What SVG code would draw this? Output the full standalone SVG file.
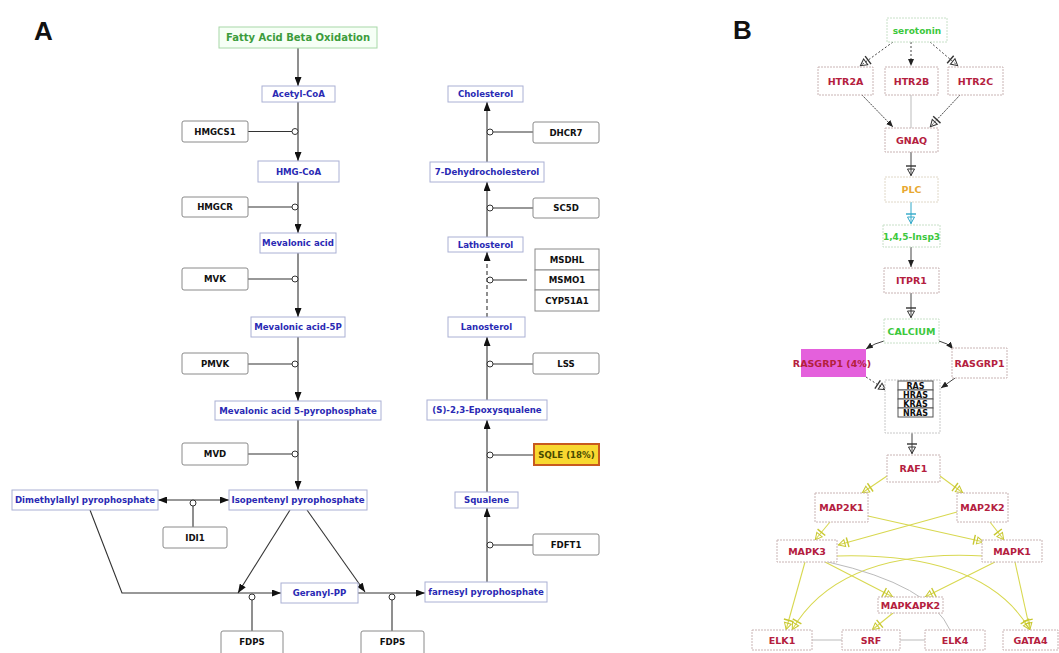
<svg xmlns="http://www.w3.org/2000/svg" width="1059" height="653" viewBox="0 0 1059 653">
<defs>
<style>
text{font-family:"DejaVu Sans","Liberation Sans",sans-serif;font-weight:bold;text-anchor:middle}
.lbl{font-size:26px;fill:#111;text-anchor:start;font-family:"Liberation Sans",Arial,sans-serif}
.met rect{fill:#fff;stroke:#aab0d4;stroke-width:1}
.met text{font-size:8.6px;fill:#2a2ab4}
.enz rect{fill:#fff;stroke:#8a8a8a;stroke-width:1}
.enz text{font-size:8.6px;fill:#111}
.gb rect{fill:#fff;stroke:#c9b4b4;stroke-width:1;stroke-dasharray:2 1}
.gb text{font-size:9.5px;fill:#b4203e}
.ln{fill:none;stroke:#333;stroke-width:1.1}
.cat{fill:#fff;stroke:#333;stroke-width:1}
.bk{fill:none;stroke:#444;stroke-width:1}
.yl{fill:none;stroke:#d8d850;stroke-width:1.1}
.gr{fill:none;stroke:#bbb;stroke-width:1}
</style>
<marker id="arr" markerWidth="9" markerHeight="7" refX="9" refY="3.5" orient="auto-start-reverse" markerUnits="userSpaceOnUse"><path d="M0,0 L9,3.5 L0,7 Z" fill="#111"/></marker>
<marker id="arrS" markerWidth="7" markerHeight="6" refX="7" refY="3" orient="auto" markerUnits="userSpaceOnUse"><path d="M0,0 L7,3 L0,6 Z" fill="#222"/></marker>
<marker id="btK" markerWidth="14" markerHeight="12" refX="13" refY="6" orient="auto" markerUnits="userSpaceOnUse"><path d="M6,2.5 L12.5,6 L6,9.5 Z" fill="none" stroke="#333" stroke-width="1"/><path d="M3,1 V11" stroke="#333" stroke-width="1.4"/></marker>
<marker id="btC" markerWidth="14" markerHeight="12" refX="13" refY="6" orient="auto" markerUnits="userSpaceOnUse"><path d="M6,2.5 L12.5,6 L6,9.5 Z" fill="none" stroke="#30a8c8" stroke-width="1"/><path d="M3,1 V11" stroke="#30a8c8" stroke-width="1.4"/></marker>
<marker id="btY" markerWidth="14" markerHeight="12" refX="13" refY="6" orient="auto" markerUnits="userSpaceOnUse"><path d="M6,2.5 L12.5,6 L6,9.5 Z" fill="none" stroke="#c8c830" stroke-width="1"/><path d="M3,1 V11" stroke="#c8c830" stroke-width="1.4"/></marker>
</defs>
<rect width="1059" height="653" fill="#fff"/>
<text class="lbl" x="34" y="40">A</text>
<text class="lbl" x="733" y="39">B</text>

<g id="connectors">
<!-- Panel A left column -->
<path class="ln" d="M298,48 V86" marker-end="url(#arr)"/>
<path class="ln" d="M298,102 V161" marker-end="url(#arr)"/>
<path class="ln" d="M298,182 V233" marker-end="url(#arr)"/>
<path class="ln" d="M298,253 V317" marker-end="url(#arr)"/>
<path class="ln" d="M298,337 V401" marker-end="url(#arr)"/>
<path class="ln" d="M298,420 V490" marker-end="url(#arr)"/>
<path class="ln" d="M248,131.5 H292"/><circle class="cat" cx="295" cy="131.5" r="3"/>
<path class="ln" d="M248,207 H292"/><circle class="cat" cx="295" cy="207" r="3"/>
<path class="ln" d="M248,279 H292"/><circle class="cat" cx="295" cy="279" r="3"/>
<path class="ln" d="M248,364 H292"/><circle class="cat" cx="295" cy="364" r="3"/>
<path class="ln" d="M248,454 H292"/><circle class="cat" cx="295" cy="454" r="3"/>
<!-- isomerase -->
<path class="ln" d="M158,500 H229" marker-start="url(#arr)" marker-end="url(#arr)"/>
<path class="ln" d="M193,506 V527"/><circle class="cat" cx="193" cy="503" r="3"/>
<!-- geranyl / farnesyl -->
<path class="ln" d="M90,510 L122,593 H281" marker-end="url(#arr)"/>
<path class="ln" d="M290,510 L238,593" marker-end="url(#arr)"/>
<path class="ln" d="M307,510 L365,592" marker-end="url(#arr)"/>
<path class="ln" d="M358,593 H425" marker-end="url(#arr)"/>
<path class="ln" d="M252,600 V631"/><circle class="cat" cx="252" cy="597" r="3"/>
<path class="ln" d="M392,600 V631"/><circle class="cat" cx="392" cy="597" r="3"/>
<!-- Panel A right column -->
<path class="ln" d="M487,582 V508" marker-end="url(#arr)"/>
<path class="ln" d="M487,492 V420" marker-end="url(#arr)"/>
<path class="ln" d="M487,400 V337" marker-end="url(#arr)"/>
<path class="ln" d="M487,317 V252" stroke-dasharray="4 3" marker-end="url(#arr)"/>
<path class="ln" d="M487,237 V182" marker-end="url(#arr)"/>
<path class="ln" d="M487,162 V102" marker-end="url(#arr)"/>
<path class="ln" d="M533,132 H493"/><circle class="cat" cx="490" cy="132" r="3"/>
<path class="ln" d="M533,208 H493"/><circle class="cat" cx="490" cy="208" r="3"/>
<path class="ln" d="M527,280 H493"/><circle class="cat" cx="490" cy="280" r="3"/>
<path class="ln" d="M533,364 H493"/><circle class="cat" cx="490" cy="364" r="3"/>
<path class="ln" d="M534,455 H493"/><circle class="cat" cx="490" cy="455" r="3"/>
<path class="ln" d="M533,545 H493"/><circle class="cat" cx="490" cy="545" r="3"/>

<!-- Panel B -->
<path class="bk" d="M893,42 L860,66" stroke-dasharray="2 2" marker-end="url(#btK)"/>
<path class="bk" d="M911,42 V66" stroke-dasharray="2 2" marker-end="url(#arrS)"/>
<path class="bk" d="M930,42 L958,66" stroke-dasharray="2 2" marker-end="url(#btK)"/>
<path class="bk" d="M862,95 L893,127" stroke-dasharray="2 1" marker-end="url(#arrS)"/>
<path class="gr" d="M911,95 V128"/>
<path class="bk" d="M960,95 L930,127" stroke-dasharray="2 1" marker-end="url(#btK)"/>
<path class="bk" d="M911,152 V176" marker-end="url(#btK)"/>
<path fill="none" stroke="#30a8c8" stroke-width="1" d="M911,202 V224" marker-end="url(#btC)"/>
<path class="bk" d="M911,247 V267" marker-end="url(#arrS)"/>
<path class="bk" d="M911,293 V318" marker-end="url(#btK)"/>
<path class="bk" d="M884,341 Q875,343 866,349" marker-end="url(#arrS)"/>
<path class="bk" d="M939,341 Q948,343 953,349" marker-end="url(#arrS)"/>
<path class="bk" d="M866,377 L886,390" stroke-dasharray="2 2" marker-end="url(#btK)"/>
<path class="bk" d="M955,378 L941,388" marker-end="url(#arrS)"/>
<path class="bk" d="M912,433 V454" marker-end="url(#btK)"/>
<path class="yl" d="M887,476 L862,493" marker-end="url(#btY)"/>
<path class="yl" d="M940,476 L963,493" marker-end="url(#btY)"/>
<path class="yl" d="M830,522 L815,540" marker-end="url(#btY)"/>
<path class="yl" d="M868,516 L984,542" marker-end="url(#btY)"/>
<path class="yl" d="M957,512 L838,545" marker-end="url(#btY)"/>
<path class="yl" d="M990,522 L1004,540" marker-end="url(#btY)"/>
<path class="yl" d="M825,562 L893,597" marker-end="url(#btY)"/>
<path class="yl" d="M995,562 L925,597" marker-end="url(#btY)"/>
<path class="yl" d="M805,562 L786,630" marker-end="url(#btY)"/>
<path class="yl" d="M984,556 Q840,548 792,630" marker-end="url(#btY)"/>
<path class="yl" d="M837,556 Q985,552 1030,630" marker-end="url(#btY)"/>
<path class="yl" d="M1015,562 L1030,630" marker-end="url(#btY)"/>
<path class="yl" d="M893,613 L872,630" marker-end="url(#btY)"/>
<path class="gr" d="M828,562 Q930,585 950,630"/>
<path class="gr" d="M812,640 H842"/>
<path class="gr" d="M900,640 H925"/>
</g>

<!-- Panel A nodes -->
<g id="fatty"><rect x="219" y="27" width="158" height="21" fill="#f6fff6" stroke="#a8d8a8"/><text x="298" y="40.5" font-size="10" fill="#3c9c3c">Fatty Acid Beta Oxidation</text></g>
<g id="acetylcoa" class="met"><rect x="262" y="86" width="73" height="16"/><text x="298.5" y="97">Acetyl-CoA</text></g>
<g id="hmgcoa" class="met"><rect x="258" y="161" width="81" height="21"/><text x="298.5" y="174.5">HMG-CoA</text></g>
<g id="mevalonic" class="met"><rect x="260" y="233" width="76" height="20"/><text x="298" y="246">Mevalonic acid</text></g>
<g id="mevalonic5p" class="met"><rect x="251" y="317" width="94" height="20"/><text x="298" y="330">Mevalonic acid-5P</text></g>
<g id="mevalonicpp" class="met"><rect x="215" y="401" width="166" height="19"/><text x="298" y="413.5">Mevalonic acid 5-pyrophosphate</text></g>
<g id="isopentenyl" class="met"><rect x="229" y="490" width="138" height="20"/><text x="298" y="503">Isopentenyl pyrophosphate</text></g>
<g id="dimethylallyl" class="met"><rect x="12" y="490" width="146" height="20"/><text x="85" y="503">Dimethylallyl pyrophosphate</text></g>
<g id="geranylpp" class="met"><rect x="281" y="583" width="77" height="20"/><text x="319.5" y="596">Geranyl-PP</text></g>
<g id="farnesyl" class="met"><rect x="425" y="582" width="122" height="20"/><text x="486" y="595">farnesyl pyrophosphate</text></g>
<g id="squalene" class="met"><rect x="455" y="492" width="63" height="16"/><text x="486.5" y="503">Squalene</text></g>
<g id="epoxysqualene" class="met"><rect x="427" y="400" width="120" height="20"/><text x="487" y="413">(S)-2,3-Epoxysqualene</text></g>
<g id="lanosterol" class="met"><rect x="448" y="317" width="77" height="20"/><text x="486.5" y="330">Lanosterol</text></g>
<g id="lathosterol" class="met"><rect x="448" y="237" width="75" height="15"/><text x="485.5" y="247.5">Lathosterol</text></g>
<g id="dehydrocholesterol" class="met"><rect x="430" y="162" width="114" height="20"/><text x="487" y="175">7-Dehydrocholesterol</text></g>
<g id="cholesterol" class="met"><rect x="448" y="86" width="75" height="16"/><text x="485.5" y="97">Cholesterol</text></g>

<g id="hmgcs1" class="enz"><rect x="182" y="121" width="66" height="21" rx="2"/><text x="215" y="134.5">HMGCS1</text></g>
<g id="hmgcr" class="enz"><rect x="182" y="197" width="66" height="20" rx="2"/><text x="215" y="210">HMGCR</text></g>
<g id="mvk" class="enz"><rect x="182" y="268" width="66" height="22" rx="2"/><text x="215" y="282">MVK</text></g>
<g id="pmvk" class="enz"><rect x="182" y="353" width="66" height="21" rx="2"/><text x="215" y="366.5">PMVK</text></g>
<g id="mvd" class="enz"><rect x="182" y="443" width="66" height="22" rx="2"/><text x="215" y="457">MVD</text></g>
<g id="idi1" class="enz"><rect x="163" y="527" width="64" height="21" rx="2"/><text x="195" y="540.5">IDI1</text></g>
<g id="fdps1" class="enz"><rect x="221" y="631" width="62" height="25" rx="2"/><text x="252" y="645">FDPS</text></g>
<g id="fdps2" class="enz"><rect x="361" y="631" width="63" height="25" rx="2"/><text x="392.5" y="645">FDPS</text></g>
<g id="fdft1" class="enz"><rect x="533" y="534" width="66" height="21" rx="2"/><text x="566" y="547.5">FDFT1</text></g>
<g id="sqle"><rect x="534" y="444" width="65" height="21" fill="#f8d830" stroke="#c85a1e" stroke-width="2"/><text x="566.5" y="458" font-size="8.6" fill="#4a4a00">SQLE (18%)</text></g>
<g id="lss" class="enz"><rect x="533" y="353" width="66" height="21" rx="2"/><text x="566" y="366.5">LSS</text></g>
<g id="msmo" class="enz"><rect x="535" y="249" width="64" height="21"/><text x="567" y="262.5">MSDHL</text><rect x="535" y="270" width="64" height="20"/><text x="567" y="283">MSMO1</text><rect x="535" y="290" width="64" height="21"/><text x="567" y="303.5">CYP51A1</text></g>
<g id="sc5d" class="enz"><rect x="533" y="198" width="66" height="20" rx="2"/><text x="566" y="211">SC5D</text></g>
<g id="dhcr7" class="enz"><rect x="533" y="122" width="66" height="21" rx="2"/><text x="566" y="135.5">DHCR7</text></g>

<!-- Panel B nodes -->
<g id="serotonin" class="gb"><rect x="887" y="18" width="60" height="24" style="stroke:#c8e0c8"/><text x="917" y="33.5" style="fill:#3cc83c;font-size:9px">serotonin</text></g>
<g id="htr2a" class="gb"><rect x="818" y="67" width="55" height="28"/><text x="845.5" y="84.5">HTR2A</text></g>
<g id="htr2b" class="gb"><rect x="885" y="67" width="53" height="28"/><text x="911.5" y="84.5">HTR2B</text></g>
<g id="htr2c" class="gb"><rect x="948" y="67" width="55" height="28"/><text x="975.5" y="84.5">HTR2C</text></g>
<g id="gnaq" class="gb"><rect x="885" y="128" width="53" height="24"/><text x="911.5" y="143.5">GNAQ</text></g>
<g id="plc" class="gb"><rect x="885" y="177" width="53" height="25" style="stroke:#e0d8c8"/><text x="911.5" y="193" style="fill:#e8a830">PLC</text></g>
<g id="insp3" class="gb"><rect x="883" y="225" width="57" height="22" style="stroke:#c8e0c8"/><text x="911.5" y="239.5" style="fill:#3cc83c;font-size:9px">1,4,5-Insp3</text></g>
<g id="itpr1" class="gb"><rect x="884" y="268" width="55" height="25"/><text x="911.5" y="284">ITPR1</text></g>
<g id="calcium" class="gb"><rect x="884" y="319" width="55" height="24" style="stroke:#c8e0c8"/><text x="911.5" y="334.5" style="fill:#3cc83c">CALCIUM</text></g>
<g id="rasgrp1a"><rect x="801" y="349" width="65" height="28" fill="#e460dc"/><text x="832" y="366.5" font-size="9.5" fill="#b4203e">RASGRP1 (4%)</text></g>
<g id="rasgrp1b" class="gb"><rect x="952" y="348" width="55" height="30"/><text x="979.5" y="366.5">RASGRP1</text></g>
<g id="ras" class="gb"><rect x="885" y="380" width="55" height="53" style="stroke:#c8c8c8"/>
<rect x="898" y="381" width="35" height="9" style="stroke:#555;stroke-dasharray:none"/><rect x="898" y="390" width="35" height="9" style="stroke:#555;stroke-dasharray:none"/><rect x="898" y="399" width="35" height="9" style="stroke:#555;stroke-dasharray:none"/><rect x="898" y="408" width="35" height="9" style="stroke:#555;stroke-dasharray:none"/>
<text x="915.5" y="388.5" style="fill:#111;font-size:8px">RAS</text><text x="915.5" y="397.5" style="fill:#111;font-size:8px">HRAS</text><text x="915.5" y="406.5" style="fill:#111;font-size:8px">KRAS</text><text x="915.5" y="415.5" style="fill:#111;font-size:8px">NRAS</text></g>
<g id="raf1" class="gb"><rect x="887" y="455" width="53" height="27"/><text x="913.5" y="472">RAF1</text></g>
<g id="map2k1" class="gb"><rect x="815" y="493" width="53" height="29"/><text x="841.5" y="511">MAP2K1</text></g>
<g id="map2k2" class="gb"><rect x="957" y="493" width="51" height="29"/><text x="982.5" y="511">MAP2K2</text></g>
<g id="mapk3" class="gb"><rect x="777" y="540" width="60" height="22"/><text x="807" y="554.5">MAPK3</text></g>
<g id="mapk1" class="gb"><rect x="982" y="540" width="60" height="22"/><text x="1012" y="554.5">MAPK1</text></g>
<g id="mapkapk2" class="gb"><rect x="878" y="597" width="65" height="16"/><text x="910.5" y="608.5">MAPKAPK2</text></g>
<g id="elk1" class="gb"><rect x="752" y="630" width="60" height="20"/><text x="782" y="643.5">ELK1</text></g>
<g id="srf" class="gb"><rect x="842" y="630" width="58" height="20"/><text x="871" y="643.5">SRF</text></g>
<g id="elk4" class="gb"><rect x="925" y="630" width="60" height="20"/><text x="955" y="643.5">ELK4</text></g>
<g id="gata4" class="gb"><rect x="1003" y="630" width="55" height="20"/><text x="1030.5" y="643.5">GATA4</text></g>
</svg>
